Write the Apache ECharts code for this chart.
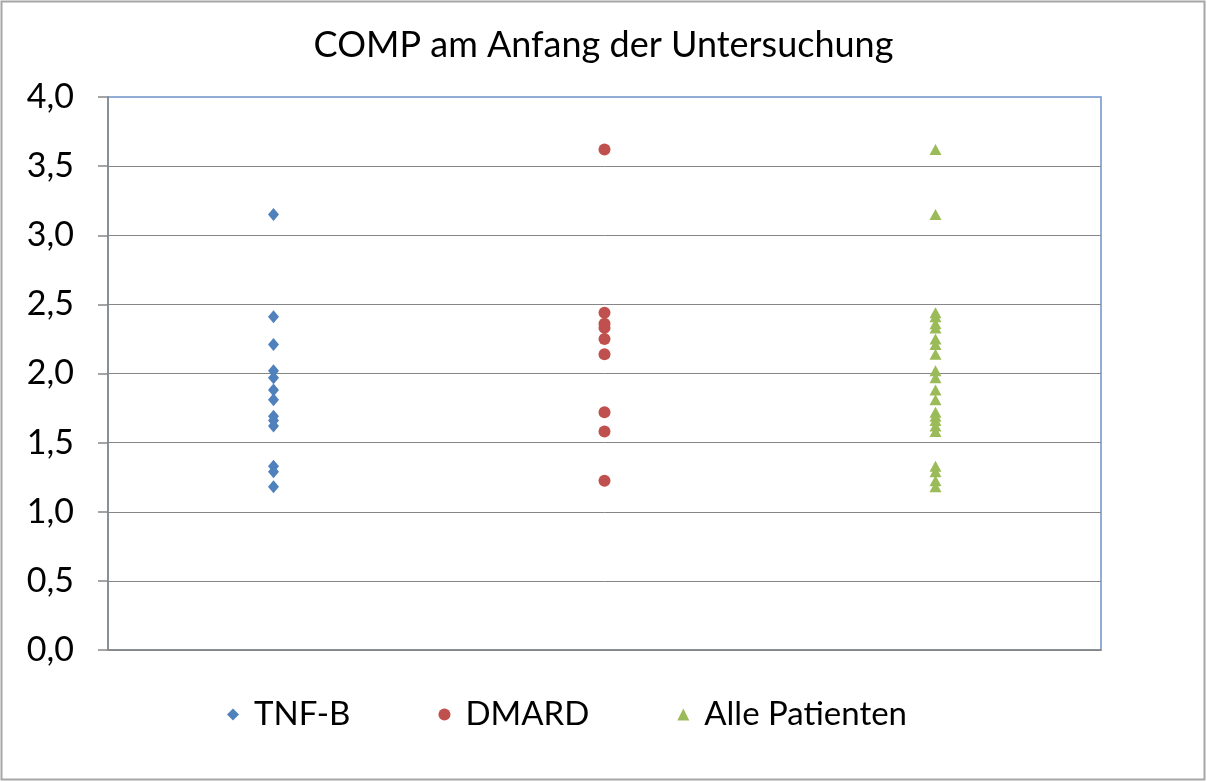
<!DOCTYPE html>
<html>
<head>
<meta charset="utf-8">
<title>COMP am Anfang der Untersuchung</title>
<script src="https://cdn.jsdelivr.net/npm/echarts@6/dist/echarts.min.js"></script>
<style>
  html, body { margin: 0; padding: 0; background: #fff; }
  #main { width: 1207px; height: 782px; }
</style>
</head>
<body>
<div id="main"></div>
<script>
// groups on the x axis (labels are hidden in the original)
const groups = ['TNF-B', 'DMARD', 'Alle Patienten']
const yTicks = [0, 0.5, 1, 1.5, 2, 2.5, 3, 3.5, 4]

// COMP values
const tnfValues = [3.15, 2.41, 2.21, 2.02, 1.97, 1.88, 1.81, 1.69, 1.66, 1.62, 1.33, 1.29, 1.18]
const dmardValues = [3.62, 2.44, 2.36, 2.33, 2.25, 2.14, 1.72, 1.58, 1.225]
const alleValues = [3.62, 3.15, 2.44, 2.41, 2.36, 2.33, 2.25, 2.21, 2.14, 2.02, 1.97, 1.88, 1.81,
  1.72, 1.69, 1.66, 1.62, 1.58, 1.33, 1.29, 1.225, 1.18]

const font = "Lato, 'Open Sans', sans-serif"

const toPoints = (idx, values) => values.map(v => [idx, v])

const chart = echarts.init(document.getElementById('main'))

const option = {
  animation: false,
  backgroundColor: '#fff',
  textStyle: { fontFamily: font },
  title: {
    text: 'COMP am Anfang der Untersuchung',
    left: 'center',
    top: 22,
    textStyle: { fontFamily: font, fontSize: 36, fontWeight: 'normal', color: '#000' }
  },
  graphic: [
    {
      type: 'rect',
      silent: true,
      shape: { x: 1.5, y: 1.5, width: 1203, height: 778 },
      style: { fill: 'none', stroke: '#a6a6a6', lineWidth: 2 }
    }
  ],
  legend: {
    bottom: 46,
    left: 222,
    itemWidth: 12,
    itemHeight: 12,
    itemGap: 88,
    textStyle: { fontFamily: font, fontSize: 33, color: '#000', padding: [0, 0, 0, 10] },
    data: [
      { name: groups[0], icon: 'diamond' },
      { name: groups[1], icon: 'circle' },
      { name: groups[2], icon: 'triangle' }
    ]
  },
  grid: {
    left: 108,
    right: 106,
    top: 97,
    bottom: 132,
    show: true,
    borderColor: '#6f93c8',
    borderWidth: 1.5,
    containLabel: false
  },
  xAxis: {
    type: 'category',
    data: groups,
    boundaryGap: true,
    axisLine: { show: true, lineStyle: { color: '#868686', width: 1.5 } },
    axisTick: { show: false },
    axisLabel: { show: false },
    splitLine: { show: false }
  },
  yAxis: {
    type: 'value',
    min: yTicks[0],
    max: yTicks[yTicks.length - 1],
    interval: 0.5,
    axisLine: { show: true, lineStyle: { color: '#868686', width: 1.5 } },
    axisTick: { show: true, inside: false, length: 10, lineStyle: { color: '#868686', width: 1.5 } },
    axisLabel: {
      margin: 34,
      fontFamily: font,
      fontSize: 34,
      color: '#000',
      formatter: v => v.toFixed(1).replace('.', ',')
    },
    splitLine: { show: true, showMaxLine: false, lineStyle: { color: '#868686', width: 1 } }
  },
  series: [
    {
      name: groups[0],
      type: 'scatter',
      symbol: 'diamond',
      symbolSize: [11, 13],
      itemStyle: { color: '#4f81bd', opacity: 1 },
      data: toPoints(0, tnfValues)
    },
    {
      name: groups[1],
      type: 'scatter',
      symbol: 'circle',
      symbolSize: 12,
      itemStyle: { color: '#c0504d', opacity: 1 },
      data: toPoints(1, dmardValues)
    },
    {
      name: groups[2],
      type: 'scatter',
      symbol: 'triangle',
      symbolSize: [12, 11],
      itemStyle: { color: '#9bbb59', opacity: 1 },
      data: toPoints(2, alleValues)
    }
  ]
}

chart.setOption(option)
</script>
</body>
</html>
